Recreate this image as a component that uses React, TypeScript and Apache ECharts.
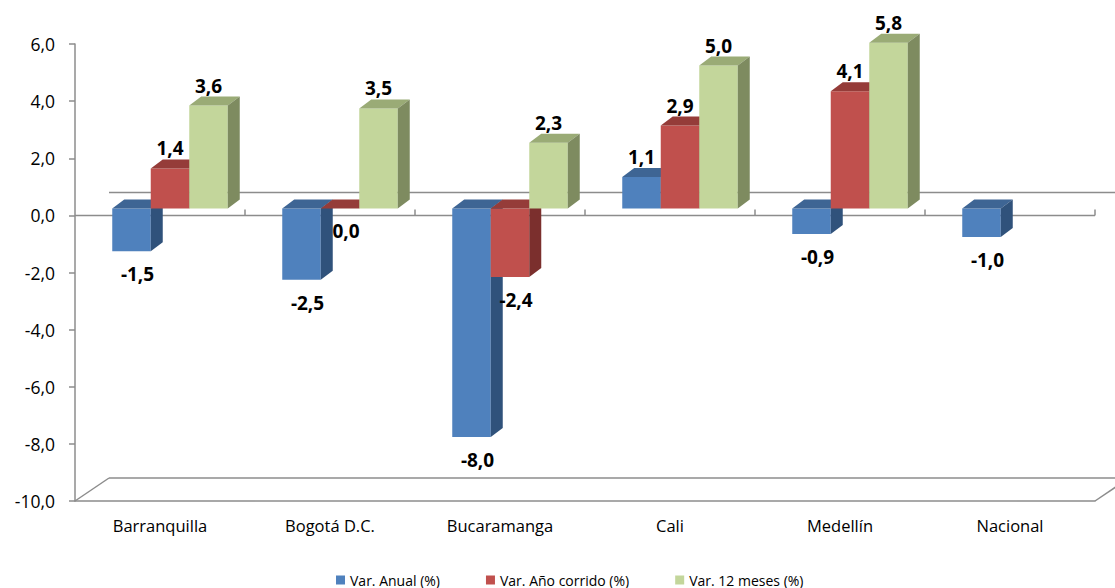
import React, { useEffect, useRef } from "react";
import * as echarts from "echarts";

const categories = ["Barranquilla", "Bogotá D.C.", "Bucaramanga", "Cali", "Medellín", "Nacional"];
const seriesNames = ["Var. Anual (%)", "Var. Año corrido (%)", "Var. 12 meses (%)"];
const varAnual: (number | null)[] = [-1.5, -2.5, -8.0, 1.1, -0.9, -1.0];
const varAnoCorrido: (number | null)[] = [1.4, 0.0, -2.4, 2.9, 4.1, null];
const var12Meses: (number | null)[] = [3.6, 3.5, 2.3, 5.0, 5.8, null];
const Y_MIN = -10;
const Y_MAX = 6;
const Y_INTERVAL = 2;

const WIDTH = 1115;
const HEIGHT = 588;
const GRID_LEFT = 75;
const GRID_RIGHT = 20;
const GRID_TOP = 44;
const GRID_BOTTOM = 87;

const FONT = "'Open Sans', 'Noto Sans', sans-serif";
const AXIS_GREY = "#8c8c8c";
const FRONT = ["#4f81bd", "#c0504d", "#c3d69b"];
const TOP = ["#3e6594", "#953c39", "#9aab76"];
const SIDE = ["#30527b", "#7b2f2d", "#7e8b60"];

// 3D styling
const BAR_FRAC = 38.5 / 170;
const SHIFT_X = 10;
const SHIFT_Y = -7;
const DX = 12;
const DY = -9;
const WALL_DX = 34;
const WALL_DY = -23;

const fmt = (v: number) => v.toFixed(1).replace(".", ",");

const makeRender = (s: number) => (params: any, api: any) => {
  const cat = api.value(0);
  const val = api.value(1);
  if (val == null || isNaN(val)) return;
  const p0 = api.coord([cat, 0]);
  const p1 = api.coord([cat, val]);
  const band = api.size([1, 0])[0];
  const barW = band * BAR_FRAC;
  const x0 = p0[0] - 1.5 * barW + SHIFT_X + s * barW;
  const yb = p0[1] + SHIFT_Y;
  const yv = p1[1] + SHIFT_Y;
  const yTop = Math.min(yb, yv);
  const yBot = Math.max(yb, yv);
  const positive = val > 0;
  const lx = positive ? x0 + barW / 2 : x0 + barW / 2 + 6;
  const ly = positive ? yTop - 20 : yBot + 23;
  return {
    type: "group",
    children: [
      {
        type: "rect",
        shape: { x: x0, y: yTop, width: barW, height: yBot - yTop },
        style: { fill: FRONT[s] },
      },
      {
        type: "polygon",
        shape: {
          points: [
            [x0, yTop],
            [x0 + DX, yTop + DY],
            [x0 + barW + DX, yTop + DY],
            [x0 + barW, yTop],
          ],
        },
        style: { fill: TOP[s] },
      },
      {
        type: "polygon",
        shape: {
          points: [
            [x0 + barW, yTop],
            [x0 + barW + DX, yTop + DY],
            [x0 + barW + DX, yBot + DY],
            [x0 + barW, yBot],
          ],
        },
        style: { fill: SIDE[s] },
      },
      {
        type: "text",
        x: lx,
        y: ly,
        style: {
          text: fmt(val),
          fill: "#000",
          fontSize: 19,
          fontWeight: "bold",
          fontFamily: FONT,
          align: "center",
          verticalAlign: "middle",
        },
      },
    ],
  };
};

const toData = (arr: (number | null)[]) =>
  arr.map((v, i) => (v == null ? null : [i, v])).filter((d) => d !== null);

export default function App() {
  const ref = useRef<HTMLDivElement>(null);
  useEffect(() => {
    const el = ref.current!;
    const chart = echarts.init(el, null, { renderer: "svg" });
    const allSeries = [varAnual, varAnoCorrido, var12Meses];
    chart.setOption({
      animation: false,
      color: FRONT,
      grid: { left: GRID_LEFT, right: GRID_RIGHT, top: GRID_TOP, bottom: GRID_BOTTOM, containLabel: false },
      legend: {
        data: seriesNames,
        left: 331,
        top: 568,
        icon: "rect",
        itemWidth: 9,
        itemHeight: 9,
        itemGap: 46,
        textStyle: { fontSize: 14, fontFamily: FONT, color: "#000" },
      },
      xAxis: {
        type: "category",
        data: categories,
        axisLine: { onZero: false, lineStyle: { color: AXIS_GREY, width: 1.5 } },
        axisTick: { show: false },
        axisLabel: { margin: 16, fontSize: 16.5, fontFamily: FONT, color: "#000" },
        splitLine: { show: false },
      },
      yAxis: {
        type: "value",
        min: Y_MIN,
        max: Y_MAX,
        interval: Y_INTERVAL,
        axisLine: { show: true, lineStyle: { color: AXIS_GREY, width: 1.5 } },
        axisTick: { show: true, length: 6, lineStyle: { color: AXIS_GREY, width: 1.5 } },
        axisLabel: { margin: 20, fontSize: 17.5, fontFamily: FONT, color: "#000", formatter: (v: number) => fmt(v) },
        splitLine: { show: false },
      },
      series: allSeries.map((arr, s) => ({
        type: "custom",
        name: seriesNames[s],
        coordinateSystem: "cartesian2d",
        itemStyle: { color: FRONT[s] },
        encode: { x: 0, y: 1 },
        data: toData(arr),
        renderItem: makeRender(s),
        z: 3,
      })),
    });

    const yZero = chart.convertToPixel({ yAxisIndex: 0 }, 0) as number;
    const yMin = chart.convertToPixel({ yAxisIndex: 0 }, Y_MIN) as number;
    const x0 = GRID_LEFT;
    const x1 = WIDTH - GRID_RIGHT;
    const band = (x1 - x0) / categories.length;
    const lineStyle = { stroke: AXIS_GREY, lineWidth: 1.5 };
    const elements: any[] = [
      { type: "line", z: 1, shape: { x1: x0 + WALL_DX, y1: yZero + WALL_DY, x2: x1 + WALL_DX, y2: yZero + WALL_DY }, style: lineStyle },
      { type: "line", z: 1, shape: { x1: x0 + WALL_DX, y1: yMin + WALL_DY, x2: x1 + WALL_DX, y2: yMin + WALL_DY }, style: lineStyle },
      { type: "line", z: 1, shape: { x1: x0, y1: yMin, x2: x0 + WALL_DX, y2: yMin + WALL_DY }, style: lineStyle },
      { type: "line", z: 1, shape: { x1: x1, y1: yMin, x2: x1 + WALL_DX, y2: yMin + WALL_DY }, style: lineStyle },
      { type: "line", z: 1, shape: { x1: x0, y1: yZero, x2: x1, y2: yZero }, style: lineStyle },
    ];
    for (let k = 1; k <= categories.length; k++) {
      const x = x0 + k * band;
      elements.push({ type: "line", z: 1, shape: { x1: x, y1: yZero, x2: x, y2: yZero - 6 }, style: lineStyle });
    }
    chart.setOption({ graphic: { elements } });
    return () => chart.dispose();
  }, []);
  return <div ref={ref} style={{ position: "absolute", left: 0, top: 0, width: WIDTH, height: HEIGHT }} />;
}
